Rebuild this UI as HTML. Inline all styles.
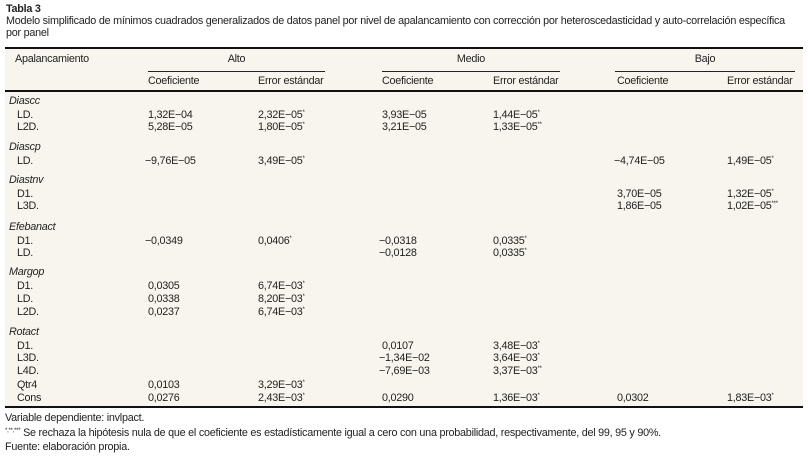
<!DOCTYPE html>
<html><head><meta charset="utf-8"><style>
body{margin:0;width:808px;height:457px;background:#fff;position:relative;overflow:hidden;font-family:"Liberation Sans",sans-serif;font-size:10.8px;color:#222;letter-spacing:-0.25px}
div{position:absolute;white-space:nowrap;line-height:13px}
.bg{background:#f8f5ee;left:5px;width:798px;top:48px;height:359px}
.l{height:0;border-top:1px solid #222}
.t{border-top:2px solid #111}
i{font-style:italic}
sup{font-size:6px;line-height:0;vertical-align:4px}
</style></head><body>
<div class="bg"></div>
<div style="left:6px;top:3px;font-weight:bold">Tabla 3</div>
<div style="left:6px;top:15px">Modelo simplificado de mínimos cuadrados generalizados de datos panel por nivel de apalancamiento con corrección por heteroscedasticidad y auto-correlación específica</div>
<div style="left:6px;top:27px">por panel</div>
<div class="l t" style="left:5px;width:798px;top:47px"></div>
<div style="left:15px;top:53px">Apalancamiento</div>
<div style="left:148px;width:177px;text-align:center;top:53px">Alto</div>
<div style="left:382px;width:178px;text-align:center;top:53px">Medio</div>
<div style="left:615px;width:180px;text-align:center;top:53px">Bajo</div>
<div class="l" style="left:148px;width:177px;top:71px"></div>
<div class="l" style="left:382px;width:178px;top:71px"></div>
<div class="l" style="left:615px;width:180px;top:71px"></div>
<div style="left:148px;top:75px">Coeficiente</div><div style="left:258px;top:75px">Error estándar</div>
<div style="left:382px;top:75px">Coeficiente</div><div style="left:493px;top:75px">Error estándar</div>
<div style="left:617px;top:75px">Coeficiente</div><div style="left:727px;top:75px">Error estándar</div>
<div class="l t" style="left:5px;width:798px;top:90px"></div>

<div style="left:9px;top:95px"><i>Diascc</i></div>
<div style="left:17px;top:109px">LD.</div><div style="left:148px;top:109px">1,32E−04</div><div style="left:258px;top:109px">2,32E−05<sup>*</sup></div><div style="left:382px;top:109px">3,93E−05</div><div style="left:493px;top:109px">1,44E−05<sup>*</sup></div>
<div style="left:17px;top:121px">L2D.</div><div style="left:148px;top:121px">5,28E−05</div><div style="left:258px;top:121px">1,80E−05<sup>*</sup></div><div style="left:382px;top:121px">3,21E−05</div><div style="left:493px;top:121px">1,33E−05<sup>**</sup></div>

<div style="left:9px;top:141px"><i>Diascp</i></div>
<div style="left:17px;top:155px">LD.</div><div style="left:145px;top:155px">−9,76E−05</div><div style="left:258px;top:155px">3,49E−05<sup>*</sup></div><div style="left:614px;top:155px">−4,74E−05</div><div style="left:727px;top:155px">1,49E−05<sup>*</sup></div>

<div style="left:9px;top:174px"><i>Diastnv</i></div>
<div style="left:17px;top:188px">D1.</div><div style="left:617px;top:188px">3,70E−05</div><div style="left:727px;top:188px">1,32E−05<sup>*</sup></div>
<div style="left:17px;top:200px">L3D.</div><div style="left:617px;top:200px">1,86E−05</div><div style="left:727px;top:200px">1,02E−05<sup>***</sup></div>

<div style="left:9px;top:221px"><i>Efebanact</i></div>
<div style="left:17px;top:235px">D1.</div><div style="left:145px;top:235px">−0,0349</div><div style="left:258px;top:235px">0,0406<sup>*</sup></div><div style="left:379px;top:235px">−0,0318</div><div style="left:493px;top:235px">0,0335<sup>*</sup></div>
<div style="left:17px;top:247px">LD.</div><div style="left:379px;top:247px">−0,0128</div><div style="left:493px;top:247px">0,0335<sup>*</sup></div>

<div style="left:9px;top:266px"><i>Margop</i></div>
<div style="left:17px;top:280px">D1.</div><div style="left:148px;top:280px">0,0305</div><div style="left:258px;top:280px">6,74E−03<sup>*</sup></div>
<div style="left:17px;top:293px">LD.</div><div style="left:148px;top:293px">0,0338</div><div style="left:258px;top:293px">8,20E−03<sup>*</sup></div>
<div style="left:17px;top:306px">L2D.</div><div style="left:148px;top:306px">0,0237</div><div style="left:258px;top:306px">6,74E−03<sup>*</sup></div>

<div style="left:9px;top:326px"><i>Rotact</i></div>
<div style="left:17px;top:340px">D1.</div><div style="left:382px;top:340px">0,0107</div><div style="left:493px;top:340px">3,48E−03<sup>*</sup></div>
<div style="left:17px;top:352px">L3D.</div><div style="left:379px;top:352px">−1,34E−02</div><div style="left:493px;top:352px">3,64E−03<sup>*</sup></div>
<div style="left:17px;top:365px">L4D.</div><div style="left:379px;top:365px">−7,69E−03</div><div style="left:493px;top:365px">3,37E−03<sup>**</sup></div>
<div style="left:17px;top:379px">Qtr4</div><div style="left:148px;top:379px">0,0103</div><div style="left:258px;top:379px">3,29E−03<sup>*</sup></div>
<div style="left:17px;top:392px">Cons</div><div style="left:148px;top:392px">0,0276</div><div style="left:258px;top:392px">2,43E−03<sup>*</sup></div><div style="left:382px;top:392px">0,0290</div><div style="left:493px;top:392px">1,36E−03<sup>*</sup></div><div style="left:617px;top:392px">0,0302</div><div style="left:727px;top:392px">1,83E−03<sup>*</sup></div>
<div class="l t" style="left:5px;width:798px;top:406px"></div>

<div style="left:5px;top:412px">Variable dependiente: invlpact.</div>
<div style="left:5px;top:427px"><sup>*,**,***</sup> Se rechaza la hipótesis nula de que el coeficiente es estadísticamente igual a cero con una probabilidad, respectivamente, del 99, 95 y 90%.</div>
<div style="left:5px;top:441px">Fuente: elaboración propia.</div>
</body></html>
